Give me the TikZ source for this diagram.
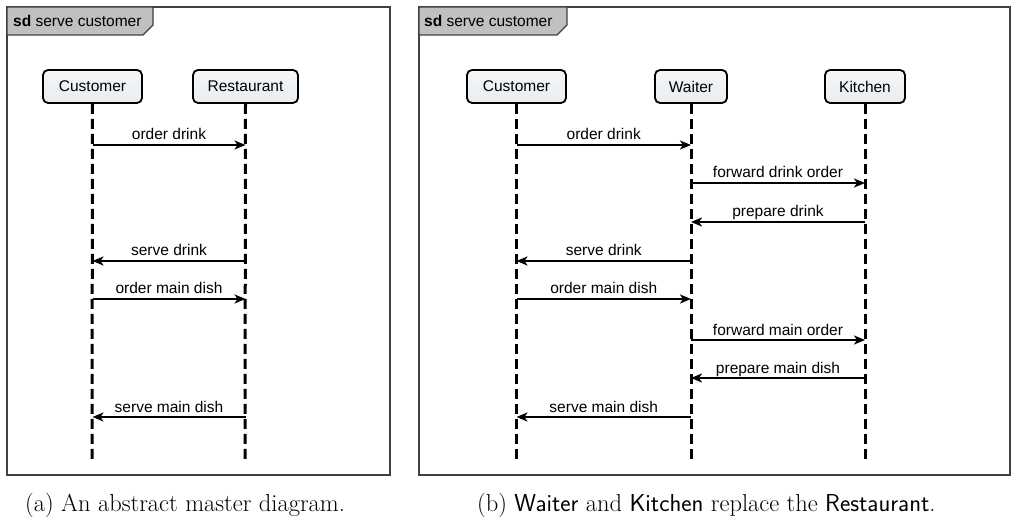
\documentclass[tikz,border=0pt]{standalone}
\usepackage{fontspec}
\newfontfamily\diagfont{Liberation Sans}
\usetikzlibrary{arrows.meta}

\definecolor{framegray}{HTML}{404040}
\definecolor{tabgray}{HTML}{C0C0C0}
\definecolor{boxtop}{HTML}{F4F6F8}
\definecolor{boxmid}{HTML}{D6DDE3}
\definecolor{boxbot}{HTML}{E9EDF0}

\tikzset{
  frameline/.style={draw=framegray, line width=1.5pt},
  tabshape/.style={draw=framegray, fill=tabgray, line width=1.2pt},
  tabtext/.style={inner sep=0pt, anchor=base west, font=\diagfont\fontsize{15.5}{18}\selectfont},
  actor/.style={draw=black, line width=1.8pt, rounded corners=5pt,
    top color=boxtop, middle color=boxmid, bottom color=boxbot,
    minimum height=33pt, inner sep=0pt,
    font=\diagfont\fontsize{15.5}{18}\selectfont},
  lifeline/.style={line width=3pt, dash pattern=on 10pt off 5pt},
  msg/.style={line width=2pt, -{Stealth[length=11pt,width=9pt,inset=3pt]}},
  msglabel/.style={midway, anchor=base, yshift=5pt, inner sep=0pt,
    font=\diagfont\fontsize{15.5}{18}\selectfont},
  captiontext/.style={inner sep=0pt, anchor=base west,
    font=\fontsize{24.5}{28}\selectfont\addfontfeatures{LetterSpace=3.5}},
}

\begin{document}
\begin{tikzpicture}[x=1pt, y=-1pt]
\useasboundingbox (0,0) rectangle (1017,521);

% ---------- (a) master diagram ----------
\draw[frameline] (7,7) rectangle (390,475);
\draw[tabshape] (7,7) -- (153,7) -- (153,25) -- (143,35) -- (7,35) -- cycle;
\node[tabtext] (sdA) at (13,27) {\textbf{sd} serve customer};

\node[actor, minimum width=99pt] (custA) at (92.5,86.5) {Customer};
\node[actor, minimum width=105pt] (restA) at (245.5,86.5) {Restaurant};
\coordinate (custAend) at (92,462);
\coordinate (restAend) at (245,462);
\draw[lifeline] (custA.south) -- (custAend);
\draw[lifeline] (restA.south) -- (restAend);

\draw[msg] (custA |- 0,145) -- (restA |- 0,145) node[msglabel] {order drink};
\draw[msg] (restA |- 0,261) -- (custA |- 0,261) node[msglabel] {serve drink};
\draw[msg] (custA |- 0,299) -- (restA |- 0,299) node[msglabel] {order main dish};
\draw[msg] (restA |- 0,417) -- (custA |- 0,417) node[msglabel] {serve main dish};

% ---------- (b) refined diagram ----------
\draw[frameline] (419,7) rectangle (1010,475);
\draw[tabshape] (419,7) -- (567,7) -- (567,25) -- (557,35) -- (419,35) -- cycle;
\node[tabtext] (sdB) at (424,27) {\textbf{sd} serve customer};

\node[actor, minimum width=99pt] (custB) at (516.5,86.5) {Customer};
\node[actor, minimum width=72pt] (waitB) at (691,86.5) {Waiter};
\node[actor, minimum width=80pt] (kitB) at (865,86.5) {Kitchen};
\coordinate (custBend) at (516.5,462);
\coordinate (waitBend) at (691,462);
\coordinate (kitBend) at (865,462);
\draw[lifeline] (custB.south) -- (custBend);
\draw[lifeline] (waitB.south) -- (waitBend);
\draw[lifeline] (kitB.south) -- (kitBend);

\draw[msg] (custB |- 0,145) -- (waitB |- 0,145) node[msglabel] {order drink};
\draw[msg] (waitB |- 0,183) -- (kitB |- 0,183) node[msglabel] {forward drink order};
\draw[msg] (kitB |- 0,222) -- (waitB |- 0,222) node[msglabel] {prepare drink};
\draw[msg] (waitB |- 0,261) -- (custB |- 0,261) node[msglabel] {serve drink};
\draw[msg] (custB |- 0,299) -- (waitB |- 0,299) node[msglabel] {order main dish};
\draw[msg] (waitB |- 0,340) -- (kitB |- 0,340) node[msglabel] {forward main order};
\draw[msg] (kitB |- 0,378) -- (waitB |- 0,378) node[msglabel] {prepare main dish};
\draw[msg] (waitB |- 0,417) -- (custB |- 0,417) node[msglabel] {serve main dish};

% ---------- captions ----------
\node[captiontext] (capA) at (25,511) {(a) An abstract master diagram.};
\node[captiontext] (capB) at (477,511) {(b) {\sffamily\addfontfeatures{LetterSpace=3.5}Waiter} and {\sffamily\addfontfeatures{LetterSpace=3.5}Kitchen} replace the {\sffamily\addfontfeatures{LetterSpace=3.5}Restaurant}.};
\end{tikzpicture}
\end{document}
